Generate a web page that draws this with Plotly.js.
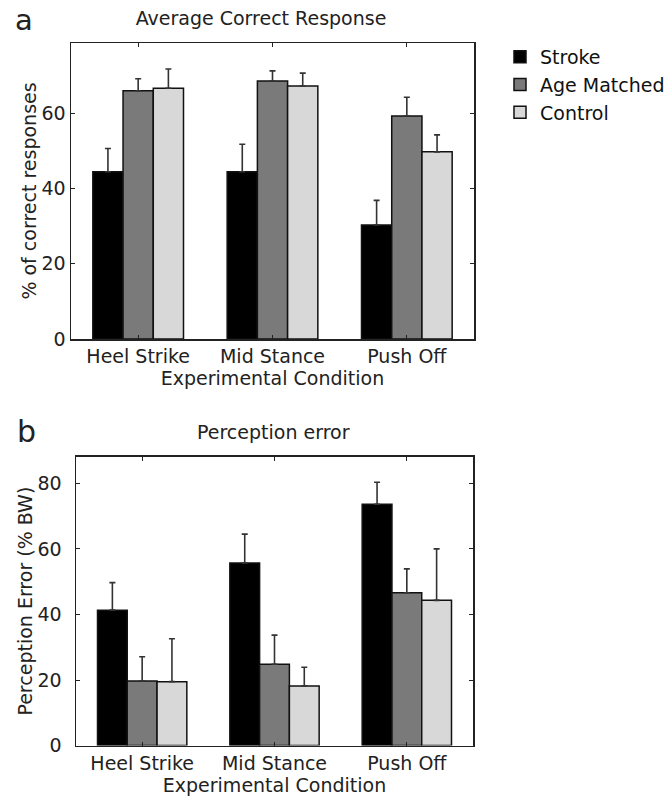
<!DOCTYPE html>
<html>
<head>
<meta charset="utf-8">
<script src="https://cdn.plot.ly/plotly-3.0.1.min.js"></script>
<style>html,body{margin:0;padding:0;background:#fff;}#chart{width:671px;height:799px;}</style>
</head>
<body>
<div id="chart"></div>
<script>
const conditions = ['Heel Strike', 'Mid Stance', 'Push Off'];
const groups = ['Stroke', 'Age Matched', 'Control'];
const groupColors = ['#000000', '#7a7a7a', '#d8d8d8'];

// Panel a: average correct response (%)
const correctStroke = [44.4, 44.4, 30.3];
const correctAge = [65.9, 68.5, 59.2];
const correctControl = [66.6, 67.2, 49.7];
const correctStrokeErr = [6.2, 7.3, 6.5];
const correctAgeErr = [3.2, 2.7, 5.0];
const correctControlErr = [5.1, 3.4, 4.5];

// Panel b: perception error (% BW)
const errStroke = [41.3, 55.7, 73.6];
const errAge = [19.7, 24.8, 46.6];
const errControl = [19.5, 18.2, 44.3];
const errStrokeErr = [8.4, 8.8, 6.7];
const errAgeErr = [7.4, 8.9, 7.3];
const errControlErr = [13.1, 5.7, 15.7];

const W = 671, H = 799;
const px = v => v / W;
const py = v => 1 - v / H;

function barTrace(name, color, y, e, xa, ya, show) {
  return {
    type: 'bar', name: name, x: conditions, y: y,
    xaxis: xa, yaxis: ya, showlegend: show, legendgroup: name,
    marker: {color: color, line: {color: '#111', width: 1.5}},
    error_y: {type: 'data', symmetric: false, array: e, arrayminus: e.map(() => 0),
              color: '#333', thickness: 1.6, width: 3},
    hoverinfo: 'skip'
  };
}

const data = [
  barTrace(groups[0], groupColors[0], correctStroke, correctStrokeErr, 'x', 'y', true),
  barTrace(groups[1], groupColors[1], correctAge, correctAgeErr, 'x', 'y', true),
  barTrace(groups[2], groupColors[2], correctControl, correctControlErr, 'x', 'y', true),
  barTrace(groups[0], groupColors[0], errStroke, errStrokeErr, 'x2', 'y2', false),
  barTrace(groups[1], groupColors[1], errAge, errAgeErr, 'x2', 'y2', false),
  barTrace(groups[2], groupColors[2], errControl, errControlErr, 'x2', 'y2', false)
];

const FAM = 'DejaVu Sans, Liberation Sans, sans-serif';
const font = {family: FAM, size: 19, color: '#222'};
const axisCommon = {
  showline: true, linecolor: '#222', linewidth: 1.5, mirror: 'ticks',
  ticks: 'inside', ticklen: 4, tickcolor: '#222', tickwidth: 1,
  showgrid: false, zeroline: false, tickfont: font, fixedrange: true
};

const layout = {
  width: W, height: H,
  margin: {l: 0, r: 0, t: 0, b: 0},
  paper_bgcolor: '#fff', plot_bgcolor: '#fff',
  font: font,
  barmode: 'group', bargap: 0.325, bargroupgap: 0,
  title: {text: 'Average Correct Response', x: px(261), y: py(18), xanchor: 'center', yanchor: 'middle',
          xref: 'paper', yref: 'container', font: {family: FAM, size: 19, color: '#222'}},
  xaxis: Object.assign({}, axisCommon, {
    domain: [px(71), px(474)], anchor: 'y', range: [-0.5, 2.5],
    title: {text: 'Experimental Condition', font: font, standoff: 4}
  }),
  yaxis: Object.assign({}, axisCommon, {
    domain: [py(339), py(43)], anchor: 'x', range: [0, 78.6],
    tickvals: [0, 20, 40, 60], ticktext: ['0', '20', '40', '60'],
    title: {text: '% of correct responses', font: font, standoff: 0}
  }),
  xaxis2: Object.assign({}, axisCommon, {
    domain: [px(76), px(473)], anchor: 'y2', range: [-0.5, 2.5],
    title: {text: 'Experimental Condition', font: font, standoff: 0}
  }),
  yaxis2: Object.assign({}, axisCommon, {
    domain: [py(745.6), py(456.7)], anchor: 'x2', range: [0, 88.1],
    tickvals: [0, 20, 40, 60, 80], ticktext: ['0', '20', '40', '60', '80'],
    ticklabelstandoff: 9,
    title: {text: 'Perception Error (% BW)', font: font, standoff: 0}
  }),
  legend: {
    x: px(500), y: py(38), xanchor: 'left', yanchor: 'top',
    font: {family: FAM, size: 19, color: '#111'},
    bgcolor: 'rgba(0,0,0,0)', tracegroupgap: 0, itemwidth: 30,
    traceorder: 'normal'
  },
  annotations: [
    {text: 'a', xref: 'paper', yref: 'paper', x: px(24), y: py(20), xanchor: 'center', yanchor: 'middle',
     showarrow: false, font: {family: FAM, size: 29, color: '#222'}},
    {text: 'b', xref: 'paper', yref: 'paper', x: px(26), y: py(431), xanchor: 'center', yanchor: 'middle',
     showarrow: false, font: {family: FAM, size: 30, color: '#222'}},
    {text: 'Perception error', xref: 'paper', yref: 'paper', x: px(273), y: py(432), xanchor: 'center', yanchor: 'middle',
     showarrow: false, font: {family: FAM, size: 19, color: '#222'}}
  ]
};

Plotly.newPlot('chart', data, layout, {displayModeBar: false, staticPlot: true});
</script>
</body>
</html>
